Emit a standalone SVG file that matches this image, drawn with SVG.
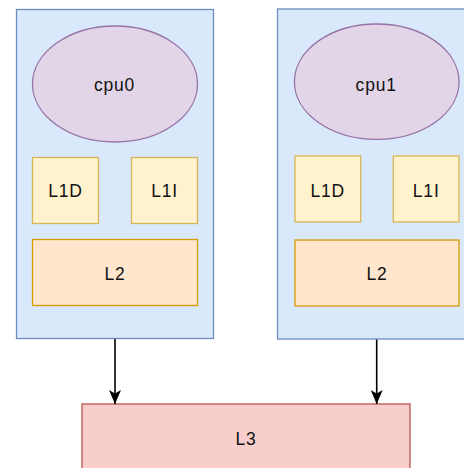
<svg xmlns="http://www.w3.org/2000/svg" width="464" height="468" viewBox="0 0 464 468">
  <style>
    .core { fill: #dae8fc; stroke: #6c8ebf; stroke-width: 1.3; }
    .cpu { fill: #e1d5e7; stroke: #9673a6; stroke-width: 1.3; }
    .l1 { fill: #fff2cc; stroke: #d6b656; stroke-width: 1.3; }
    .l2 { fill: #ffe6cc; stroke: #d79b00; stroke-width: 1.3; }
    .l3 { fill: #f8cecc; stroke: #b85450; stroke-width: 1.3; }
    text { font-family: "Liberation Sans", Arial, Helvetica, sans-serif; font-size: 17.5px; letter-spacing: 0.8px; fill: #111; text-anchor: middle; }
    .edge { stroke: #000; stroke-width: 1.6; fill: none; }
  </style>
  <defs>
    <marker id="arrow" viewBox="0 0 14 12" refX="14" refY="6" markerWidth="14" markerHeight="12" markerUnits="userSpaceOnUse" orient="auto">
      <path d="M0,0 L14,6 L0,12 L3.5,6 Z" fill="#000"/>
    </marker>
  </defs>

  <!-- core 0 -->
  <g id="core0">
    <rect class="core" x="16.5" y="9.5" width="197" height="329"/>
  </g>
  <g id="cpu0">
    <ellipse class="cpu" cx="115" cy="84" rx="82.5" ry="58"/>
    <text x="114.5" y="91">cpu0</text>
  </g>
  <g id="core0-l1d">
    <rect class="l1" x="32.5" y="157.5" width="66" height="66"/>
    <text x="65.5" y="197.3">L1D</text>
  </g>
  <g id="core0-l1i">
    <rect class="l1" x="131.5" y="157.5" width="66" height="66"/>
    <text x="164.5" y="197.3">L1I</text>
  </g>
  <g id="core0-l2">
    <rect class="l2" x="32.5" y="239.5" width="165" height="66"/>
    <text x="115" y="280">L2</text>
  </g>

  <!-- core 1 -->
  <g id="core1">
    <rect class="core" x="277.5" y="9" width="197" height="330"/>
  </g>
  <g id="cpu1">
    <ellipse class="cpu" cx="376.7" cy="81.7" rx="82.3" ry="57.7"/>
    <text x="376.2" y="90.5">cpu1</text>
  </g>
  <g id="core1-l1d">
    <rect class="l1" x="295" y="156" width="65.7" height="66"/>
    <text x="327.8" y="196.5">L1D</text>
  </g>
  <g id="core1-l1i">
    <rect class="l1" x="393.3" y="156" width="65.7" height="66"/>
    <text x="426.2" y="196.5">L1I</text>
  </g>
  <g id="core1-l2">
    <rect class="l2" x="295" y="240" width="164" height="66"/>
    <text x="377" y="280">L2</text>
  </g>

  <!-- shared last-level cache -->
  <g id="l3">
    <rect class="l3" x="82" y="404" width="328" height="80"/>
    <text x="246" y="445">L3</text>
  </g>

  <g id="connectors">
    <line class="edge" x1="115" y1="339" x2="115" y2="404" marker-end="url(#arrow)"/>
    <line class="edge" x1="376.7" y1="339.5" x2="376.7" y2="404" marker-end="url(#arrow)"/>
  </g>
</svg>
